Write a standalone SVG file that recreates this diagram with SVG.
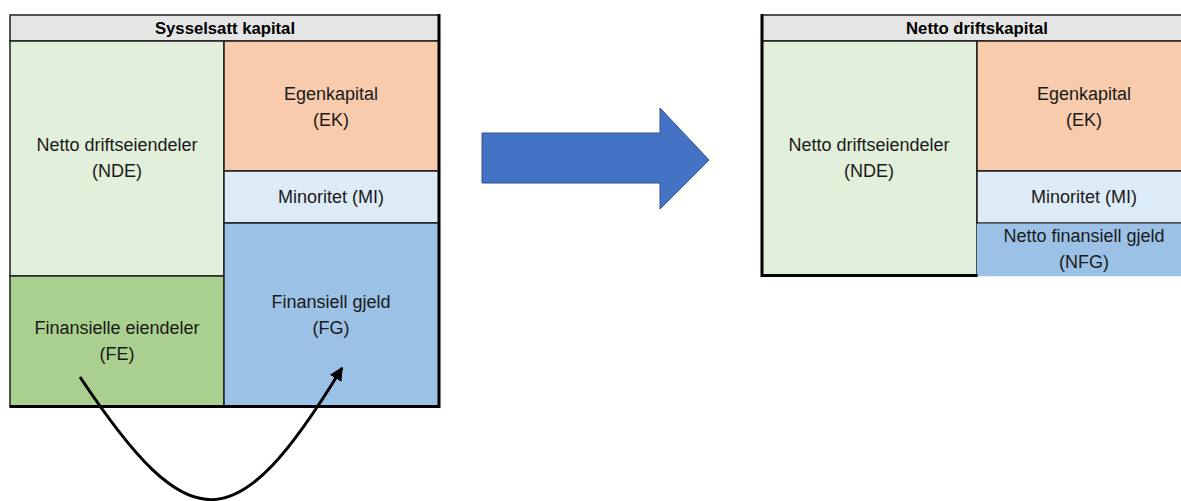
<svg xmlns="http://www.w3.org/2000/svg" width="1181" height="501" viewBox="0 0 1181 501">
  <style>
    .cell { stroke: #1f1f1f; stroke-width: 1.5; }
    .hdr { fill: #e5e5e5; }
    .nde { fill: #e2efda; }
    .fe { fill: #a9d08e; }
    .ek { fill: #f8cbad; }
    .mi { fill: #ddebf7; }
    .fg { fill: #9bc2e6; }
    .edge { stroke: #000; stroke-width: 3; fill: none; }
    .lbl { font-family: "Liberation Sans", Arial, sans-serif; font-size: 18px; fill: #1a1a1a; text-anchor: middle; }
    .title { font-family: "Liberation Sans", Arial, sans-serif; font-size: 16.7px; font-weight: bold; fill: #000; text-anchor: middle; }
  </style>
  <defs>
    <marker id="head" viewBox="0 0 10 10" refX="9" refY="5" markerWidth="4.5" markerHeight="4.5" orient="auto" markerUnits="strokeWidth">
      <path d="M0,0 L10,5 L0,10 Z" fill="#000"/>
    </marker>
  </defs>
  <rect width="1181" height="501" fill="#fff"/>

  <!-- Sysselsatt kapital -->
  <g id="left-table">
    <g id="left-header">
      <rect class="cell hdr" x="10" y="15" width="429" height="26"/>
      <text class="title" x="225" y="34">Sysselsatt kapital</text>
    </g>
    <g id="left-nde">
      <rect class="cell nde" x="10" y="41" width="214" height="235"/>
      <text class="lbl" x="117" y="151">Netto driftseiendeler</text>
      <text class="lbl" x="117" y="177">(NDE)</text>
    </g>
    <g id="left-fe">
      <rect class="cell fe" x="10" y="276" width="214" height="130"/>
      <text class="lbl" x="117" y="334">Finansielle eiendeler</text>
      <text class="lbl" x="117" y="360">(FE)</text>
    </g>
    <g id="left-ek">
      <rect class="cell ek" x="224" y="41" width="215" height="130"/>
      <text class="lbl" x="331" y="100">Egenkapital</text>
      <text class="lbl" x="331" y="126">(EK)</text>
    </g>
    <g id="left-mi">
      <rect class="cell mi" x="224" y="171" width="215" height="52"/>
      <text class="lbl" x="331" y="203">Minoritet (MI)</text>
    </g>
    <g id="left-fg">
      <rect class="cell fg" x="224" y="223" width="215" height="183"/>
      <text class="lbl" x="331" y="308">Finansiell gjeld</text>
      <text class="lbl" x="331" y="334">(FG)</text>
    </g>
    <path class="edge" d="M439,14 V406.5 H9.5"/>
  </g>

  <!-- Netto driftskapital -->
  <g id="right-table">
    <g id="right-header">
      <rect class="cell hdr" x="762" y="15" width="432" height="26"/>
      <text class="title" x="977" y="34">Netto driftskapital</text>
    </g>
    <g id="right-nde">
      <rect class="cell nde" x="762" y="41" width="215" height="235"/>
      <text class="lbl" x="869" y="151">Netto driftseiendeler</text>
      <text class="lbl" x="869" y="177">(NDE)</text>
    </g>
    <g id="right-ek">
      <rect class="cell ek" x="977" y="41" width="217" height="130"/>
      <text class="lbl" x="1084" y="100">Egenkapital</text>
      <text class="lbl" x="1084" y="126">(EK)</text>
    </g>
    <g id="right-mi">
      <rect class="cell mi" x="977" y="171" width="217" height="52"/>
      <text class="lbl" x="1084" y="203">Minoritet (MI)</text>
    </g>
    <g id="right-nfg">
      <rect class="fg" x="977" y="223.75" width="217" height="52.5"/>
      <text class="lbl" x="1084" y="242">Netto finansiell gjeld</text>
      <text class="lbl" x="1084" y="268">(NFG)</text>
    </g>
    <path class="edge" d="M762,14 V275.5 H977.5"/>
  </g>

  <!-- transformation arrow -->
  <g id="transform-arrow">
    <polygon points="482,133 660,133 660,108 709,160 660,209 660,183 482,183" fill="#4472c4" stroke="#2f528f" stroke-width="1"/>
  </g>

  <!-- FE offset against FG -->
  <g id="connectors">
    <path d="M80,377 C190,542 236,542 342,368" fill="none" stroke="#000" stroke-width="3" marker-end="url(#head)"/>
  </g>
</svg>
